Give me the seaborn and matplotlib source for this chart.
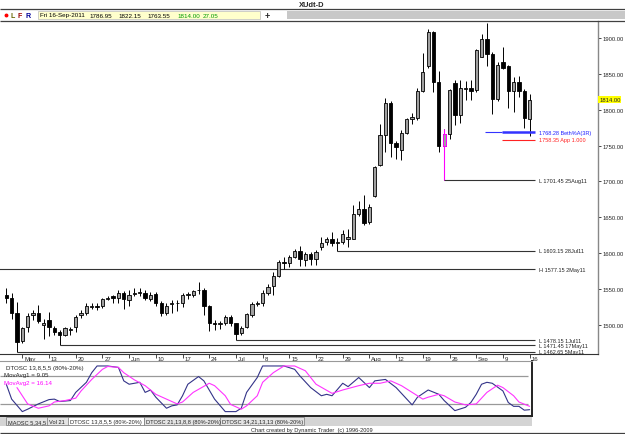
import numpy as np
import pandas as pd
import matplotlib
matplotlib.use("Agg")
import matplotlib.pyplot as plt
import matplotlib.transforms as mtransforms
from matplotlib.patches import Rectangle
import seaborn as sns

# Daily bars 3 May - 16 Sep 2011
dates = pd.bdate_range("2011-05-03", "2011-09-16")
opens = [1542, 1537, 1516, 1477, 1497, 1513, 1517, 1500, 1506, 1495,
         1490, 1486, 1493, 1497, 1513, 1516, 1525, 1526, 1526, 1536,
         1540, 1537, 1544, 1535, 1543, 1544, 1545, 1536, 1543, 1530,
         1516, 1529, 1530, 1530, 1541, 1542, 1548, 1549, 1526, 1502,
         1501, 1502, 1511, 1502, 1489, 1497, 1514, 1529, 1530, 1544,
         1554, 1568, 1588, 1586, 1595, 1603, 1591, 1599, 1592, 1608,
         1615, 1620, 1614, 1615, 1620, 1620, 1655, 1661, 1643, 1679,
         1723, 1765, 1809, 1753, 1744, 1767, 1787, 1788, 1826, 1861,
         1908, 1839, 1750, 1766, 1837, 1792, 1829, 1830, 1827, 1874,
         1899, 1878, 1815, 1866, 1861, 1826, 1839, 1826, 1786.95]
highs = [1551, 1545, 1532, 1497, 1517, 1521, 1528, 1508, 1518, 1499,
         1493, 1497, 1497, 1513, 1520, 1530, 1530, 1530, 1538, 1540,
         1542, 1548, 1547, 1548, 1552, 1552, 1548, 1546, 1546, 1533,
         1530, 1534, 1535, 1544, 1546, 1549, 1559, 1551, 1528, 1506,
         1505, 1514, 1514, 1503, 1498, 1517, 1532, 1533, 1548, 1557,
         1573, 1591, 1595, 1597, 1606, 1610, 1601, 1602, 1605, 1622,
         1623, 1630, 1621, 1632, 1633, 1667, 1672, 1681, 1668, 1722,
         1780, 1816, 1812, 1757, 1772, 1789, 1795, 1830, 1879, 1912,
         1910, 1854, 1773, 1829, 1841, 1841, 1840, 1841, 1885, 1906,
         1921, 1880, 1866, 1887, 1862, 1845, 1847, 1829, 1822.15]
lows = [1531, 1508, 1462.65, 1475, 1490, 1506, 1503, 1480, 1485, 1486,
        1471.45, 1484, 1486, 1490, 1510, 1514, 1522, 1521, 1523, 1534,
        1530, 1531, 1522, 1526, 1540, 1540, 1534, 1533, 1526, 1512,
        1513, 1517, 1519, 1525, 1536, 1539, 1543, 1514, 1492, 1493,
        1494, 1500, 1499, 1478.15, 1486, 1495, 1511, 1526, 1526, 1541,
        1541, 1566, 1578, 1580, 1593, 1582, 1582, 1584, 1583, 1605,
        1611, 1610, 1603.15, 1613, 1608, 1619, 1652, 1639, 1640, 1678,
        1722, 1741, 1734, 1731, 1730, 1766, 1780, 1786, 1825, 1858,
        1825, 1741, 1701.45, 1759, 1779, 1781, 1814, 1814, 1825, 1873,
        1861, 1794, 1812, 1857, 1803, 1797, 1818, 1775, 1763.55]
closes = [1538, 1517, 1476, 1495, 1512, 1516, 1505, 1502, 1497, 1490,
          1486, 1495, 1494, 1511, 1517, 1526, 1526, 1525, 1536, 1537,
          1537, 1544, 1536, 1542, 1545, 1546, 1537, 1542, 1530, 1516,
          1526, 1530, 1531, 1541, 1543, 1547, 1549, 1526, 1502, 1501,
          1502, 1511, 1502, 1487, 1496, 1515, 1529, 1530, 1544, 1553,
          1568, 1588, 1586, 1594, 1603, 1592, 1599, 1592, 1601, 1614,
          1620, 1614, 1615, 1627, 1622, 1655, 1661, 1642, 1664, 1720,
          1765, 1809, 1753, 1748, 1767, 1787, 1790, 1826, 1852, 1909,
          1839, 1750, 1766, 1827, 1792, 1830, 1830, 1826, 1883, 1899,
          1878, 1815, 1862, 1858, 1826, 1839, 1826, 1788, 1814.00]

# DTOSC 13,8,5,5 lines (bar number, value)
fast_idx = [0, 1, 3, 4, 6, 8, 9, 10, 12, 13, 15, 16, 17, 19, 21, 22, 23, 25, 26, 27,
            28, 30, 31, 32, 33, 34, 36, 37, 39, 41, 43, 44, 45, 47, 48, 52, 54, 55, 57, 59,
            60, 61, 63, 64, 66, 68, 69, 71, 73, 76, 77, 79, 81, 82, 84, 86, 87, 88, 89, 90,
            91, 93, 94, 95, 96, 97, 98]
fast_val = [62, 31, 5, 10, 21, 30, 31, 26, 28, 45, 66, 86, 100, 100, 97, 69, 62, 66, 45, 50,
            35, 12, 17, 19, 38, 62, 78, 69, 31, 5, 5, 12, 45, 76, 100, 100, 93, 79, 55, 38,
            41, 38, 64, 57, 76, 55, 69, 72, 55, 19, 35, 50, 41, 28, 7, 14, 24, 41, 62, 66,
            64, 48, 24, 16, 16, 8, 9]
slow_idx = [2, 3, 4, 6, 8, 9, 11, 13, 14, 16, 18, 19, 21, 22, 24, 26, 28, 30, 32, 33,
            35, 38, 39, 41, 42, 44, 45, 47, 48, 50, 52, 54, 56, 58, 61, 63, 66, 68, 70, 72,
            74, 76, 78, 79, 81, 82, 84, 86, 88, 90, 92, 93, 95, 96, 98]
slow_val = [55, 38, 21, 12, 17, 25, 28, 33, 48, 72, 93, 99, 97, 86, 71, 59, 41, 31, 21, 25,
            45, 64, 59, 38, 20, 10, 17, 38, 66, 86, 100, 100, 90, 62, 43, 50, 59, 64, 64, 69,
            59, 45, 31, 35, 41, 38, 25, 19, 21, 45, 60, 55, 38, 25, 16]

# swing high/low levels: label, price, first bar
level_labels = ["L 1603.15 28Jul11", "H 1577.15 2May11", "L 1701.45 25Aug11",
                "L 1478.15 1Jul11", "L 1471.45 17May11", "L 1462.65 5May11"]
level_prices = [1603.15, 1577.15, 1701.45, 1478.15, 1471.45, 1462.65]
level_start = [62, -2, 82, 43, 10, 2]

xtick_pos = [3, 8, 13, 18, 23, 28, 33, 38, 43, 48, 53, 58, 63, 68, 73, 78, 83, 88, 93, 98]
xtick_labels = ["May", "13", "20", "27", "Jun", "10", "17", "24", "Jul", "8", "15", "22",
                "29", "Aug", "12", "19", "26", "Sep", "9", "16"]
price_ticks = [1500, 1550, 1600, 1650, 1700, 1750, 1800, 1850, 1900]

tab_labels = ["MAOSC 5,34,5", "Vol 21", "DTOSC 13,8,5,5 (80%-20%)",
              "DTOSC 21,13,8,8 (80%-20%)", "DTOSC 34,21,13,13 (80%-20%)"]
header_vals = ["Fri 16-Sep-2011", "1786.95", "1822.15", "1763.55", "1814.00", "27.05"]

sns.set_style("white")
plt.rcParams["font.family"] = ["Liberation Sans", "DejaVu Sans"]

W, H = 625, 435
fig = plt.figure(figsize=(W / 100, H / 100), dpi=100)


def box(x0, y0, x1, y1):
    return [x0 / W, 1 - y1 / H, (x1 - x0) / W, (y1 - y0) / H]


def px_to_bar(px):
    return (px - 6.3) / 5.34


# ---- price pane
ax = fig.add_axes(box(0, 22, 598, 355))
ax.set_facecolor("none")
ax.set_xlim(px_to_bar(0), px_to_bar(598))
ax.set_ylim(1900 - (355 - 39) / 0.717, 1900 + (39 - 22) / 0.717)

o = np.array(opens); h = np.array(highs); l = np.array(lows); c = np.array(closes)
idx = np.arange(len(dates))
up = c >= o
ax.vlines(idx, l, h, color="black", lw=0.7, zorder=2)
ax.bar(idx[up], (c - o)[up], bottom=o[up], width=0.62, color="#a0a0a0",
       edgecolor="black", lw=0.6, zorder=3)
ax.bar(idx[~up], (c - o)[~up], bottom=o[~up], width=0.62, color="black",
       edgecolor="black", lw=0.6, zorder=3)
# 25 Aug bar is highlighted
k = 82
ax.vlines(k, l[k], h[k], color="#ff00ff", lw=0.8, zorder=4)
ax.bar(k, c[k] - o[k], bottom=o[k], width=0.62, color="#a0a0a0",
       edgecolor="#ff00ff", lw=0.7, zorder=5)

end_bar = px_to_bar(535)
lab_bar = px_to_bar(539)
for lab, p, s in zip(level_labels, level_prices, level_start):
    ax.hlines(p, s, end_bar, color="#333333", lw=0.8, zorder=1)
    ax.text(lab_bar, p, lab, fontsize=4.0, va="center", ha="left", color="#222222")

# projection lines
ax.hlines(1768.28, px_to_bar(485), px_to_bar(502), color="#3333ff", lw=0.8)
ax.hlines(1768.28, px_to_bar(502), end_bar, color="#3333ff", lw=1.8)
ax.text(lab_bar, 1768.28, "1768.28 Beth%A(3R)", fontsize=4.0, va="center",
        ha="left", color="#2222ff")
ax.hlines(1758.35, px_to_bar(502), end_bar, color="#ff2222", lw=0.8)
ax.text(lab_bar, 1758.35, "1758.35 App 1.000", fontsize=4.0, va="center",
        ha="left", color="#ff2222")

ax.yaxis.tick_right()
ax.set_yticks(price_ticks)
ax.set_yticklabels([f"{v:.2f}" for v in price_ticks])
ax.tick_params(axis="y", labelsize=4.2, length=2, pad=1, width=0.6, right=True)
ax.set_xticks(xtick_pos)
ax.set_xticklabels([])
ax.tick_params(axis="x", length=3, width=0.6, direction="out", bottom=True)
trans = mtransforms.blended_transform_factory(ax.transData, ax.transAxes)
for pos, lab in zip(xtick_pos, xtick_labels):
    ax.text(pos + 0.35, -4.5 / 333, lab, transform=trans, fontsize=4.3,
            ha="left", va="center")
for side in ["top", "left"]:
    ax.spines[side].set_visible(False)
ax.spines["right"].set_color("#888888")
ax.spines["right"].set_linewidth(1.0)
ax.spines["bottom"].set_color("#333333")
ax.spines["bottom"].set_linewidth(0.8)

# last price flag
ax.text(1.002, (1814 - ax.get_ylim()[0]) / (ax.get_ylim()[1] - ax.get_ylim()[0]),
        "1814.00", transform=ax.transAxes, fontsize=4.2, va="center", ha="left",
        bbox=dict(boxstyle="square,pad=0.15", fc="#ffff00", ec="none"))

# ---- oscillator pane
ax2 = fig.add_axes(box(0, 362, 532, 417))
ax2.set_xlim(px_to_bar(0), px_to_bar(532))
ax2.set_ylim(-4.14, 110.35)
ax2.hlines([20, 80], px_to_bar(0), px_to_bar(528), color="#999999", lw=0.9)
sns.lineplot(x=fast_idx, y=fast_val, ax=ax2, color="#333388", lw=0.8)
sns.lineplot(x=slow_idx, y=slow_val, ax=ax2, color="#ff33ff", lw=0.8)
ax2.set_xticks([]); ax2.set_yticks([])
ax2.set_xlabel(""); ax2.set_ylabel("")
ax2.spines["left"].set_visible(False)
ax2.spines["top"].set_color("#999999")
ax2.spines["top"].set_linewidth(0.8)
for side in ["right", "bottom"]:
    ax2.spines[side].set_color("#222222")
    ax2.spines[side].set_linewidth(1.4)
ax2.text(6 / 532, (417 - 369) / 55, "DTOSC 13,8,5,5 (80%-20%)", transform=ax2.transAxes,
         fontsize=4.4, va="center")
ax2.text(4 / 532, (417 - 376) / 55, "MovAvg1 = 9.05", transform=ax2.transAxes,
         fontsize=4.4, va="center")
ax2.text(4 / 532, (417 - 383.5) / 55, "MovAvg2 = 16.14", transform=ax2.transAxes,
         fontsize=4.4, va="center", color="#ff00ff")

# ---- frame, header and footer drawn in pixel coordinates
ov = fig.add_axes([0, 0, 1, 1], zorder=10)
ov.set_xlim(0, W); ov.set_ylim(H, 0); ov.axis("off"); ov.set_facecolor("none")
ov.hlines([10, 21.5], 0, W, color="#404040", lw=0.9)
ov.add_patch(Rectangle((287, 12), W - 287, 8, fc="#c8c8c8", ec="none"))
ov.add_patch(Rectangle((37.5, 12.3), 222.5, 7.5, fc="#ffffcc", ec="#bbbbbb", lw=0.5))
ov.text(312, 5.5, "XUdt-D", fontsize=5.4, fontweight="bold", ha="center", va="center")
ov.plot(6, 16, "o", ms=1.8, color="#ff0000")
ov.text(10.5, 16, "L", fontsize=5, fontweight="bold", color="#666600", va="center")
ov.text(17.5, 16, "F", fontsize=5, fontweight="bold", color="#990000", va="center")
ov.text(25, 16, "R", fontsize=5, fontweight="bold", color="#000099", va="center")
for x0, t, col in zip([40, 89, 118, 147, 177, 203], header_vals,
                      ["black"] * 4 + ["#009900"] * 2):
    ov.text(x0, 16, t, fontsize=4.5, color=col, va="center")
ov.text(267, 16, "+", fontsize=6.5, fontweight="bold", ha="center", va="center")

ov.add_patch(Rectangle((0, 417.5), 532, 9.5, fc="#d4d4d4", ec="none"))
tab_x = [8, 49, 70, 146, 222]
tab_w = [38, 18, 72, 73, 80]
for i, (x0, wt, t) in enumerate(zip(tab_x, tab_w, tab_labels)):
    fc = "white" if i == 2 else "#e4e4e4"
    ov.add_patch(Rectangle((x0 - 2, 418), wt + 4, 8, fc=fc, ec="#777777", lw=0.5))
    ov.text(x0, 422.3, t, fontsize=4.1, va="center")
ov.text(312, 430.5, "Chart created by Dynamic Trader  (c) 1996-2009", fontsize=4.1,
        ha="center", va="center")
ov.hlines(433.5, 0, W, color="#404040", lw=0.9)

fig.savefig("out.png", dpi=100)
